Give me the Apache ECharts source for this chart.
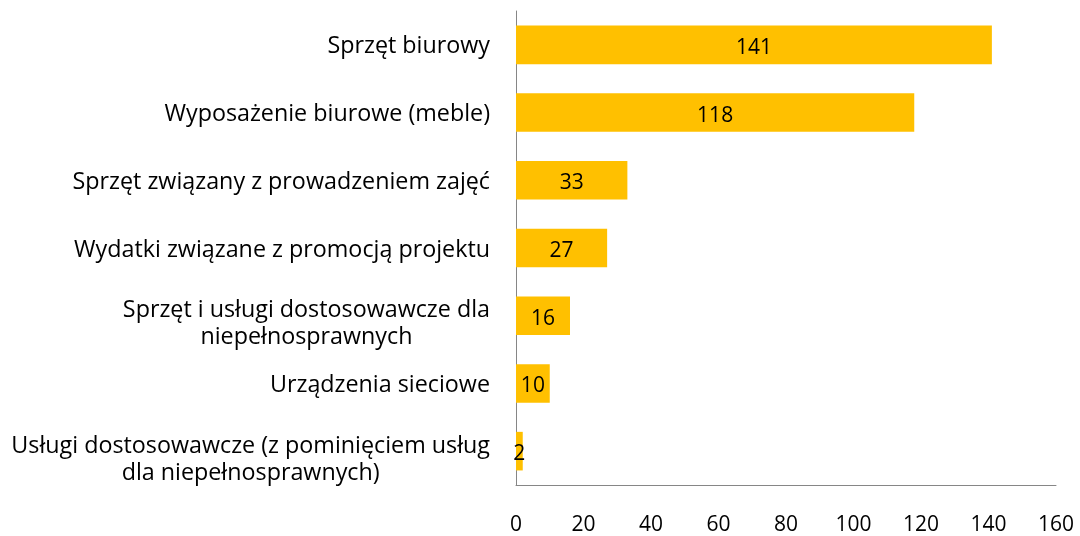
<!DOCTYPE html>
<html>
<head>
<meta charset="utf-8">
<script src="https://cdn.jsdelivr.net/npm/echarts@6/dist/echarts.min.js"></script>
<style>
html,body{margin:0;padding:0;background:#fff;}
#chart{width:1080px;height:536px;}
</style>
</head>
<body>
<div id="chart"></div>
<script>
const categories = [
  "Sprzęt biurowy",
  "Wyposażenie biurowe (meble)",
  "Sprzęt związany z prowadzeniem zajęć",
  "Wydatki związane z promocją projektu",
  "Sprzęt i usługi dostosowawcze dla\nniepełnosprawnych",
  "Urządzenia sieciowe",
  "Usługi dostosowawcze (z pominięciem usług\ndla niepełnosprawnych)"
];
const values = [141, 118, 33, 27, 16, 10, 2];
const xTicks = [0, 20, 40, 60, 80, 100, 120, 140, 160];

const FONT = "Open Sans";
const chart = echarts.init(document.getElementById('chart'));
chart.setOption({
  animation: false,
  backgroundColor: '#fff',
  grid: { left: 516, right: 24, top: 11, bottom: 45, containLabel: false },
  xAxis: {
    type: 'value',
    min: xTicks[0],
    max: xTicks[xTicks.length - 1],
    interval: 20,
    axisLine: { show: true, lineStyle: { color: '#868686', width: 1 } },
    axisTick: { show: false },
    splitLine: { show: false },
    axisLabel: { margin: 30, color: '#000', fontFamily: FONT, fontSize: 21 }
  },
  yAxis: {
    type: 'category',
    inverse: true,
    data: categories,
    axisLine: { show: true, lineStyle: { color: '#868686', width: 1 } },
    axisTick: { show: false },
    axisLabel: {
      margin: 26,
      color: '#000',
      fontFamily: FONT,
      fontSize: 23.3,
      lineHeight: 27,
      align: 'right',
      padding: [4, 0, 0, 0],
      formatter: function (v) {
        const lines = v.split('\n');
        const body = lines.map(l => '{c|' + l + '}').join('\n');
        return lines.length > 1 ? '{s| }\n' + body : body;
      },
      rich: {
        c: { align: 'center', color: '#000', fontFamily: FONT, fontSize: 23.3, lineHeight: 27 },
        s: { fontSize: 8, lineHeight: 13 }
      }
    }
  },
  series: [{
    type: 'bar',
    data: values,
    barCategoryGap: '43%',
    itemStyle: { color: '#FFC000' },
    label: {
      show: true,
      position: 'inside',
      color: '#000',
      fontFamily: FONT,
      fontSize: 21,
      offset: [0, 3]
    }
  }]
});
</script>
</body>
</html>
